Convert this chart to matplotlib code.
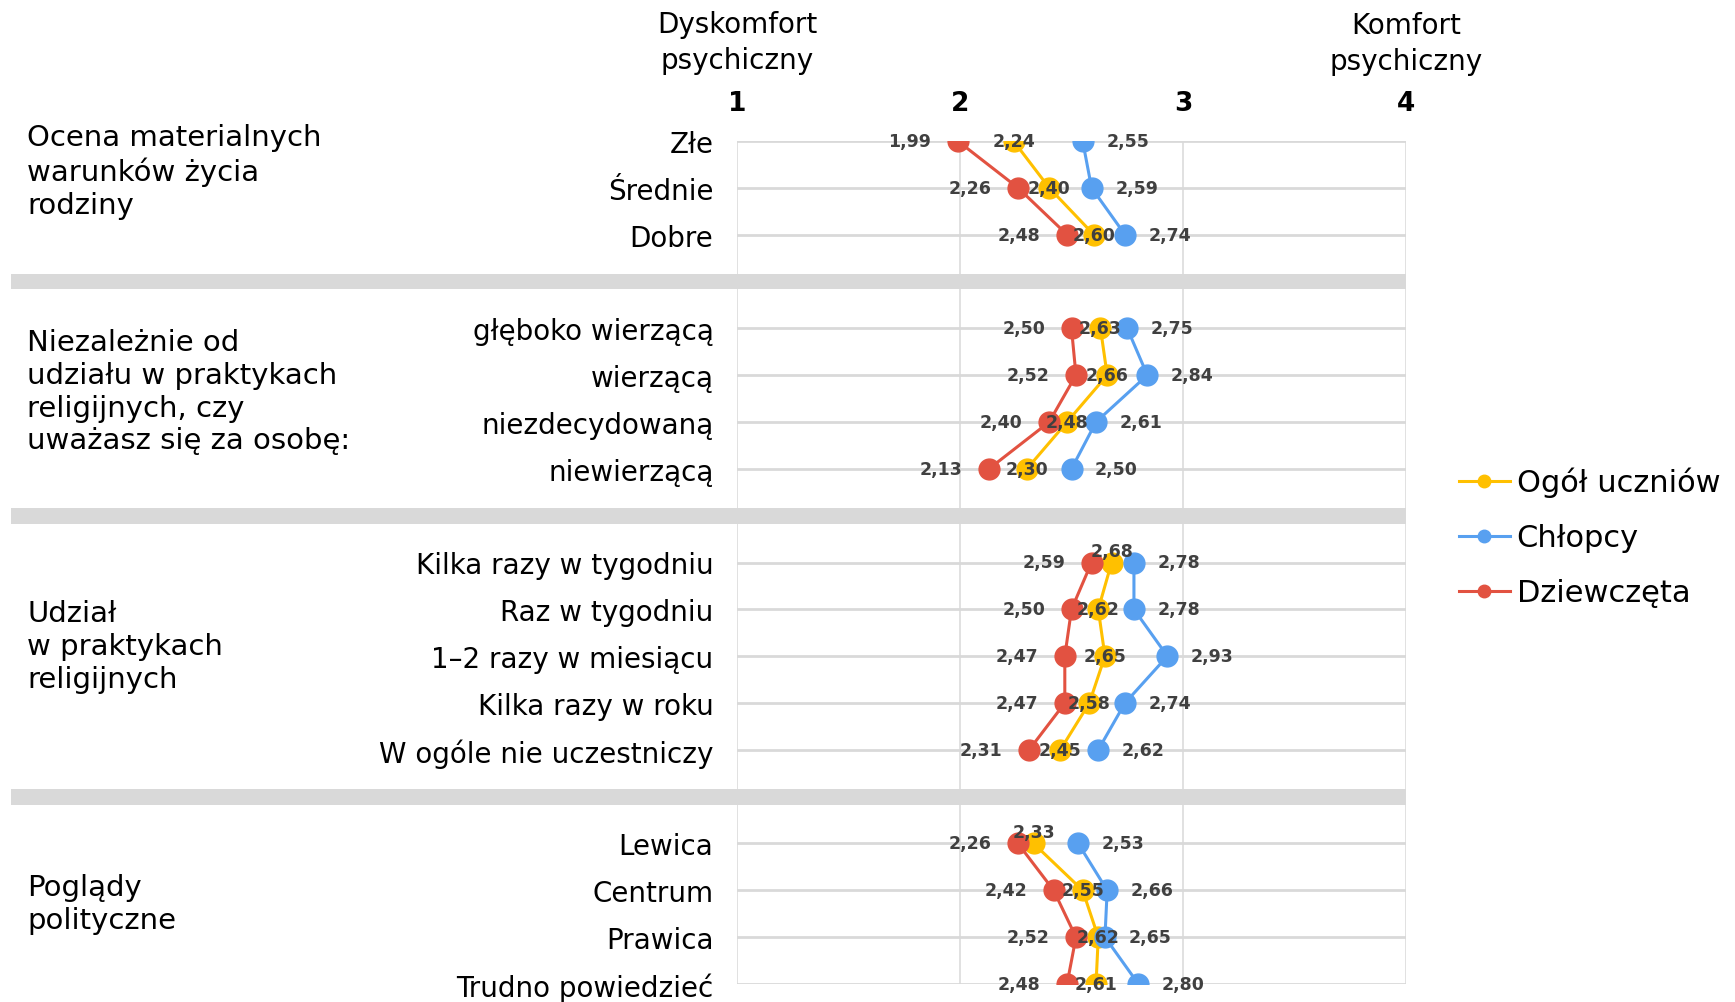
import matplotlib
matplotlib.use("Agg")
import matplotlib.pyplot as plt
from matplotlib.patches import Rectangle
from matplotlib.lines import Line2D
import matplotlib.transforms as mtrans

plt.rcParams['font.family'] = ['DejaVu Sans']

# --- data -------------------------------------------------------------------
series = ["Ogół uczniów", "Chłopcy", "Dziewczęta"]
colors = ["#FFC000", "#58A0F0", "#E25241"]

title_warunki = "Ocena materialnych\nwarunków życia\nrodziny"
cats_warunki = ["Złe", "Średnie", "Dobre"]
ogol_warunki = [2.24, 2.40, 2.60]
chl_warunki = [2.55, 2.59, 2.74]
dz_warunki = [1.99, 2.26, 2.48]

title_wiara = "Niezależnie od\nudziału w praktykach\nreligijnych, czy\nuważasz się za osobę:"
cats_wiara = ["głęboko wierzącą", "wierzącą", "niezdecydowaną", "niewierzącą"]
ogol_wiara = [2.63, 2.66, 2.48, 2.30]
chl_wiara = [2.75, 2.84, 2.61, 2.50]
dz_wiara = [2.50, 2.52, 2.40, 2.13]

title_praktyki = "Udział\nw praktykach\nreligijnych"
cats_praktyki = ["Kilka razy w tygodniu", "Raz w tygodniu", "1–2 razy w miesiącu",
                 "Kilka razy w roku", "W ogóle nie uczestniczy"]
ogol_praktyki = [2.68, 2.62, 2.65, 2.58, 2.45]
chl_praktyki = [2.78, 2.78, 2.93, 2.74, 2.62]
dz_praktyki = [2.59, 2.50, 2.47, 2.47, 2.31]

title_poglady = "Poglądy\npolityczne"
cats_poglady = ["Lewica", "Centrum", "Prawica", "Trudno powiedzieć"]
ogol_poglady = [2.33, 2.55, 2.62, 2.61]
chl_poglady = [2.53, 2.66, 2.65, 2.80]
dz_poglady = [2.26, 2.42, 2.52, 2.48]

groups = [
    (title_warunki, cats_warunki, [ogol_warunki, chl_warunki, dz_warunki]),
    (title_wiara, cats_wiara, [ogol_wiara, chl_wiara, dz_wiara]),
    (title_praktyki, cats_praktyki, [ogol_praktyki, chl_praktyki, dz_praktyki]),
    (title_poglady, cats_poglady, [ogol_poglady, chl_poglady, dz_poglady]),
]
# yellow labels that sit above the point instead of on it
above = {"Kilka razy w tygodniu", "Lewica"}
# vertical offset (in rows) of each group title relative to group centre
title_shift = [-0.36, -0.16, -0.22, -0.21]

W, H = 1735, 1003
fig = plt.figure(figsize=(W / 100, H / 100), dpi=100)
ax = fig.add_axes([737 / W, 1 - 985 / H, (1406 - 737) / W, (985 - 142) / H])

# row layout: categories, with a separator row between groups
row = 0
cat_rows, band_rows, title_rows = [], [], []
for gi, (title, cats, vals) in enumerate(groups):
    rows = list(range(row, row + len(cats)))
    cat_rows.append(rows)
    title_rows.append((rows[0] + rows[-1]) / 2 + title_shift[gi])
    row += len(cats)
    if gi < len(groups) - 1:
        band_rows.append(row)
        row += 1
nrows = row - 1

ax.set_xlim(1, 4)
ax.set_ylim(nrows, 0)
for sp in ax.spines.values():
    sp.set_visible(False)

# grid
for x in range(1, 5):
    ax.plot([x, x], [0, nrows], color="#D9D9D9", lw=1.1, zorder=1)
for rows in cat_rows:
    for r in rows:
        ax.plot([1, 4], [r, r], color="#D9D9D9", lw=2.0, zorder=1)

# separator bands from the left edge of the figure to the right end of axis
bt = mtrans.blended_transform_factory(fig.transFigure, ax.transData)
for r in band_rows:
    ax.add_patch(Rectangle((11 / W, r - 0.17), (1406 - 11) / W, 0.34, transform=bt,
                           color="#D9D9D9", lw=0, zorder=2, clip_on=False))

# series
lab_kw = dict(fontsize=12.5, fontweight="bold", color="#404040", va="center", zorder=10,
              textcoords="offset points")
for (title, cats, vals), rows in zip(groups, cat_rows):
    for si in range(3):
        ax.plot(vals[si], rows, "-o", color=colors[si], lw=2.2, ms=15, zorder=3 + si)
    for ci, (cat, r) in enumerate(zip(cats, rows)):
        vo, vc, vd = vals[0][ci], vals[1][ci], vals[2][ci]
        ax.annotate(f"{vd:.2f}".replace(".", ","), (vd, r), xytext=(-19, 0), ha="right", **lab_kw)
        ax.annotate(f"{vc:.2f}".replace(".", ","), (vc, r), xytext=(17, 0), ha="left", **lab_kw)
        dy = 8 if cat in above else 0
        ax.annotate(f"{vo:.2f}".replace(".", ","), (vo, r), xytext=(0, dy), ha="center", **lab_kw)

# category labels
all_rows = [r for rows in cat_rows for r in rows]
all_cats = [c for g in groups for c in g[1]]
ax.set_yticks(all_rows)
ax.set_yticklabels(all_cats, fontsize=20, va="center_baseline")
ax.tick_params(axis="y", length=0, pad=17)

# top value axis
ax.xaxis.tick_top()
ax.set_xticks([1, 2, 3, 4])
ax.set_xticklabels(["1", "2", "3", "4"], fontsize=19, fontweight="bold")
ax.tick_params(axis="x", length=0, pad=18)

tf = mtrans.blended_transform_factory(ax.transData, fig.transFigure)
ax.text(1, 1 - 43 / H, "Dyskomfort\npsychiczny", transform=tf, ha="center", va="center",
        fontsize=20, linespacing=1.33)
ax.text(4, 1 - 44 / H, "Komfort\npsychiczny", transform=tf, ha="center", va="center",
        fontsize=20, linespacing=1.33)

# group titles
for (title, cats, vals), ty in zip(groups, title_rows):
    ax.text(27 / W, ty, title, transform=bt, ha="left", va="center", fontsize=21,
            linespacing=1.22)

# legend
handles = [Line2D([], [], color=c, lw=2.2, marker="o", ms=9) for c in colors]
fig.legend(handles, series, loc="center left", bbox_to_anchor=(1431 / W, 1 - 538 / H),
           frameon=False, fontsize=22, handlelength=1.7, handletextpad=0.2, labelspacing=0.85)

fig.savefig("out.png", dpi=100)
